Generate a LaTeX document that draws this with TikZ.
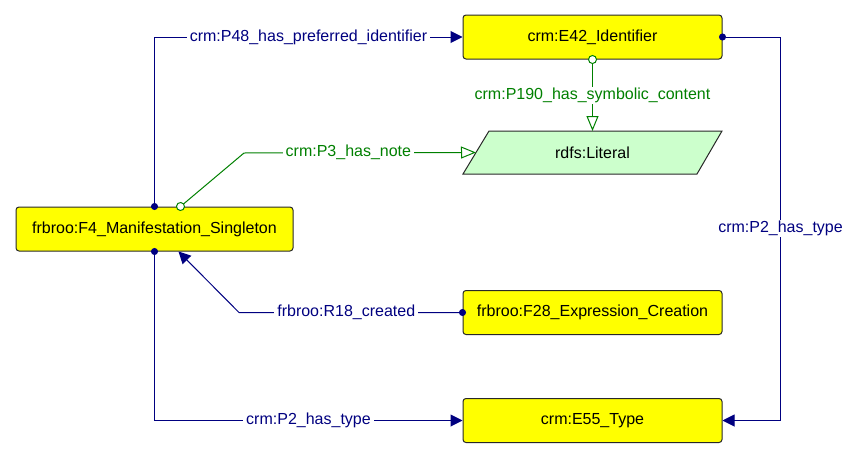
\documentclass[tikz,border=0pt]{standalone}
\usepackage{fontspec}
\setmainfont{Liberation Sans}
\usetikzlibrary{arrows.meta,calc}
\definecolor{relblue}{RGB}{0,0,128}
\definecolor{relgreen}{RGB}{0,128,0}
\definecolor{boxyellow}{RGB}{255,255,0}
\definecolor{litgreen}{RGB}{204,255,204}
\definecolor{boxline}{RGB}{40,40,40}
\begin{document}
\begin{tikzpicture}[x=1pt,y=-1pt,
  every node/.style={font=\fontsize{16}{19}\selectfont},
  classbox/.style={draw=boxline,line width=1pt,fill=boxyellow,rounded corners=3pt,
    minimum width=259pt,minimum height=44pt,inner sep=0pt},
  bluerel/.style={draw=relblue,line width=1pt},
  greenrel/.style={draw=relgreen,line width=1pt},
  bluelab/.style={fill=white,text=relblue,inner xsep=3pt,inner ysep=1pt},
  greenlab/.style={fill=white,text=relgreen,inner xsep=3pt,inner ysep=1pt},
  dotfill/.style={{Circle[length=7pt,width=7pt]}-{Triangle[length=12pt,width=12pt]},shorten <=-3.5pt},
  dotopen/.style={{Circle[open,length=9pt,width=9pt,fill=white]}-{Triangle[open,length=15pt,width=12pt,fill=white]},shorten <=-4.5pt}
]
\useasboundingbox (0,0) rectangle (860,458);

% nodes
\node[classbox] (E42) at (592.5,37) {crm:E42\_Identifier};
\node[classbox,minimum width=277pt] (F4) at (154.5,229) {frbroo:F4\_Manifestation\_Singleton};
\node[classbox] (F28) at (592.5,312.5) {frbroo:F28\_Expression\_Creation};
\node[classbox] (E55) at (592.5,420.5) {crm:E55\_Type};

% literal parallelogram
\coordinate (litNW) at (489,131);
\coordinate (litNE) at (722,131);
\coordinate (litSE) at (697,174);
\coordinate (litSW) at (463,174);
\coordinate (litW) at (476,152.5);
\filldraw[draw=boxline,line width=1pt,fill=litgreen] (litNW) -- (litNE) -- (litSE) -- (litSW) -- cycle;
\node (lit) at (592.5,152.5) {rdfs:Literal};
\coordinate (litN) at (592.5,131);

% connectors
\draw[bluerel,dotfill] (F4.north) |- node[bluelab,pos=0.75] {crm:P48\_has\_preferred\_identifier} (E42.west);

\draw[greenrel,dotopen] ([xshift=26pt]F4.north) -- (244,153) -- node[greenlab,pos=0.45] {crm:P3\_has\_note} (litW);

\draw[greenrel,dotopen] (E42.south) -- node[greenlab] {crm:P190\_has\_symbolic\_content} (litN);

\draw[bluerel,dotfill] (E42.east) -- ($(E42.east)+(58,0)$) |- node[bluelab,pos=0.25] {crm:P2\_has\_type} (E55.east);

\draw[bluerel,dotfill] (F28.west) -- node[bluelab,pos=0.52] {frbroo:R18\_created} (239,312.5) -- ([xshift=24pt]F4.south);

\draw[bluerel,dotfill] (F4.south) |- node[bluelab,pos=0.75] {crm:P2\_has\_type} (E55.west);
\end{tikzpicture}
\end{document}
